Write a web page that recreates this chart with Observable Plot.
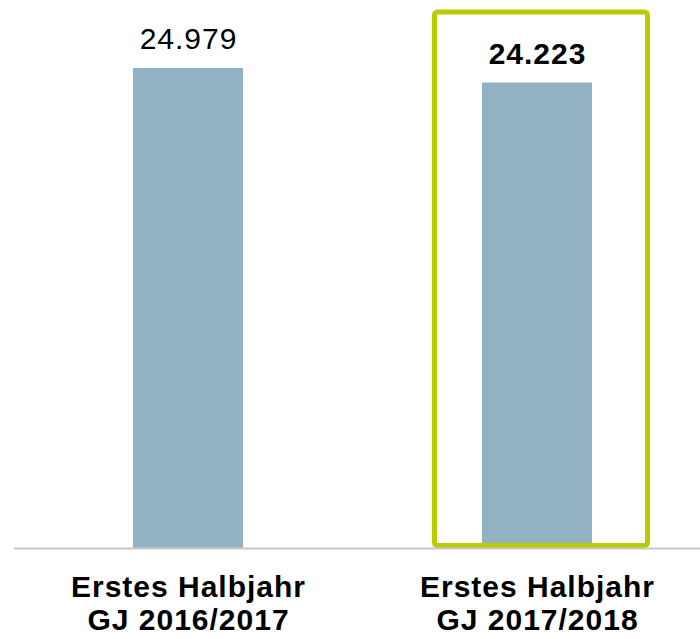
<!DOCTYPE html>
<html>
<head>
<meta charset="utf-8">
<script src="https://cdn.jsdelivr.net/npm/d3@7"></script>
<script src="https://cdn.jsdelivr.net/npm/@observablehq/plot@0.6"></script>
<style>
  html, body { margin: 0; padding: 0; background: #fff; }
  svg { font-family: "Liberation Sans", Arial, sans-serif; }
  svg text { letter-spacing: 1px; }
  svg g[aria-label="x-axis tick label"] text { letter-spacing: 1px; }
</style>
</head>
<body>
<div id="chart"></div>
<script>
const categories = ["Erstes Halbjahr\nGJ 2016/2017", "Erstes Halbjahr\nGJ 2017/2018"];
const values = [24979, 24223];
const highlighted = [false, true];

const data = categories.map((c, i) => ({cat: c, value: values[i], hl: highlighted[i]}));
const yMax = 28050;
const de = d3.formatLocale({decimal: ",", thousands: ".", grouping: [3], currency: ["", " €"]});
const fmt = de.format(",d");

const chart = Plot.plot({
  width: 700,
  height: 639,
  marginLeft: 14,
  marginRight: 0,
  marginTop: 9,
  marginBottom: 91,
  x: {domain: categories, paddingInner: 0.685, paddingOuter: 0.325, align: 0.524, label: null},
  y: {domain: [0, yMax], axis: null},
  marks: [
    Plot.barY(data, {x: "cat", y: "value", fill: "#92b1c2"}),
    Plot.barY(data.filter(d => d.hl), {x: "cat", y: () => yMax, fill: "none", stroke: "#b8cc00", strokeWidth: 5,
      insetLeft: -47.5, insetRight: -55.5, insetTop: 3, insetBottom: 2.5, rx: 3}),
    Plot.ruleY([0], {stroke: "#c8c8c8", strokeWidth: 2}),
    Plot.text(data.filter(d => !d.hl), {x: "cat", y: "value", text: d => fmt(d.value), lineAnchor: "bottom", dy: -20, fontSize: 30, fill: "#000"}),
    Plot.text(data.filter(d => d.hl), {x: "cat", y: "value", text: d => fmt(d.value), lineAnchor: "bottom", dy: -19, fontSize: 30, fontWeight: "bold", fill: "#000"}),
    Plot.axisX({tickSize: 0, tickPadding: 25, fontSize: 30, fontWeight: "bold", lineHeight: 1.1, fill: "#000", label: null})
  ]
});
document.getElementById("chart").appendChild(chart);
</script>
</body>
</html>
